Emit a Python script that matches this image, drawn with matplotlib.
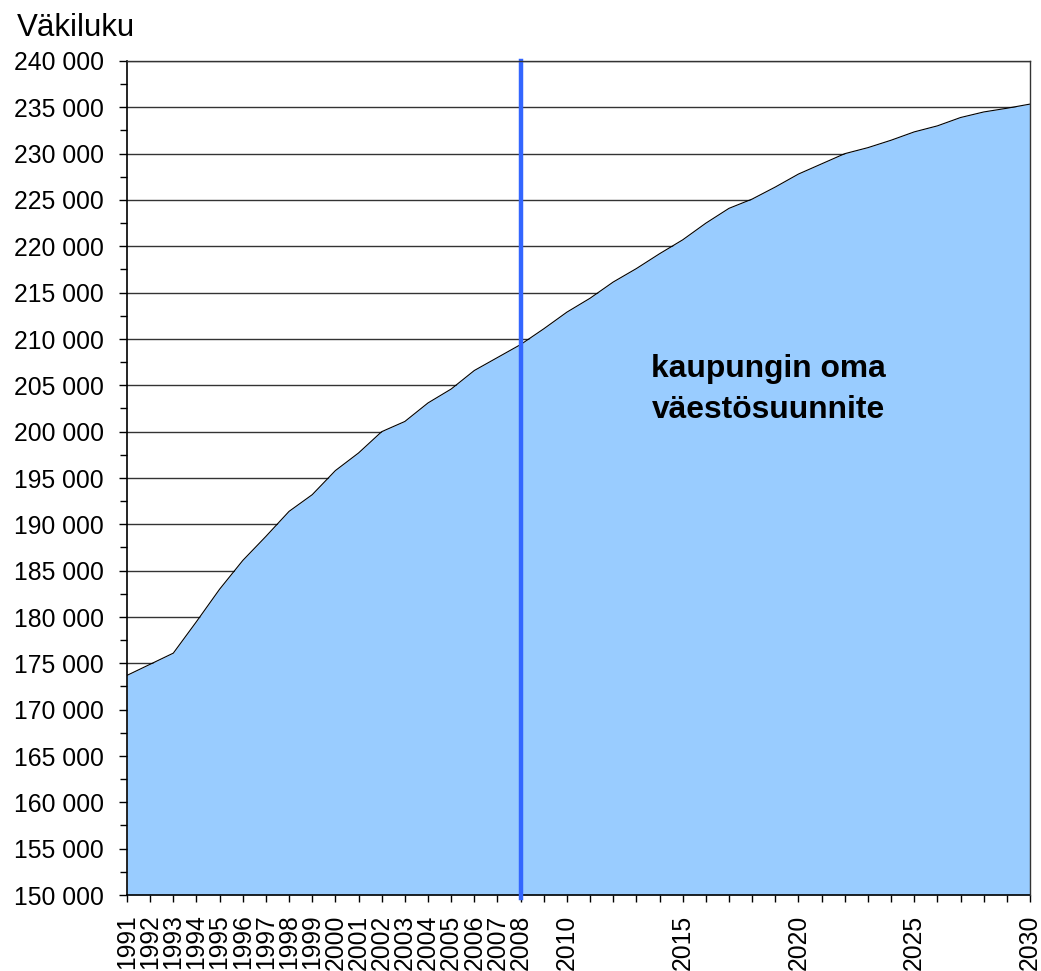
import numpy as np
import matplotlib
matplotlib.use("Agg")
import matplotlib.pyplot as plt
from matplotlib.ticker import FuncFormatter, MultipleLocator

plt.rcParams['font.family'] = ['Liberation Sans', 'DejaVu Sans']

# vuodet ja väkiluku (luettu kuvasta)
vuodet = list(range(1991, 2031))
vakiluku = [173700, 174900, 176100, 179500, 183000, 186100, 188700, 191400,
            193200, 195800, 197700, 200000, 201100, 203100, 204600, 206600,
            208000, 209400, 211100, 212900, 214400, 216150, 217600, 219200,
            220700, 222500, 224100, 225100, 226400, 227800, 228900, 230000,
            230650, 231450, 232350, 233000, 233900, 234500, 234900, 235350]
nimetyt_vuodet = list(range(1991, 2009)) + [2010, 2015, 2020, 2025, 2030]
raja_vuosi = 2008
y_min, y_max = 150000, 240000
teksti_rivit = ["kaupungin oma", "väestösuunnite"]

fig = plt.figure(figsize=(10.41, 9.71), dpi=100)
ax = fig.add_axes([127 / 1041, 1 - 895 / 971, (1030 - 127) / 1041, (895 - 61) / 971])

ax.fill_between(vuodet, vakiluku, y_min, color='#99CCFF', zorder=2, linewidth=0)
ax.plot(vuodet, vakiluku, color='black', linewidth=0.8, zorder=3)
ax.axvline(raja_vuosi, color='#3366FF', linewidth=3.2, zorder=4, clip_on=False,
           ymin=-0.003, ymax=1)

ax.set_xlim(vuodet[0], vuodet[-1])
ax.set_ylim(y_min, y_max)

ax.yaxis.set_major_locator(MultipleLocator(5000))
ax.yaxis.set_minor_locator(MultipleLocator(2500))
ax.yaxis.set_major_formatter(FuncFormatter(lambda v, p: f"{v:,.0f}".replace(",", " ")))
ax.grid(axis='y', which='major', color='#333333', linewidth=1.0, zorder=1)
ax.set_axisbelow(True)

ax.set_xticks(vuodet)
ax.set_xticklabels([str(v) if v in nimetyt_vuodet else "" for v in vuodet], rotation=90)

ax.tick_params(axis='y', which='major', direction='out', length=6, width=1,
               labelsize=17.8, pad=10.5)
ax.tick_params(axis='y', which='minor', direction='out', length=5, width=1)
ax.tick_params(axis='x', which='major', direction='out', length=5, width=1,
               labelsize=17.8, pad=9)

for s in ['left', 'bottom']:
    ax.spines[s].set_color('black')
    ax.spines[s].set_linewidth(1.2)
for s in ['right', 'top']:
    ax.spines[s].set_color('#333333')
    ax.spines[s].set_linewidth(1.0)
    ax.spines[s].set_zorder(5)

fig.text(17 / 1041, 1 - 36 / 971, "Väkiluku", fontsize=22.5, va='baseline', ha='left')

for rivi, y in zip(teksti_rivit, [205900, 201450]):
    ax.text(2013.65, y, rivi, fontsize=22.9, fontweight='bold', ha='left',
            va='baseline', zorder=6)

fig.savefig("out.png", dpi=100)
